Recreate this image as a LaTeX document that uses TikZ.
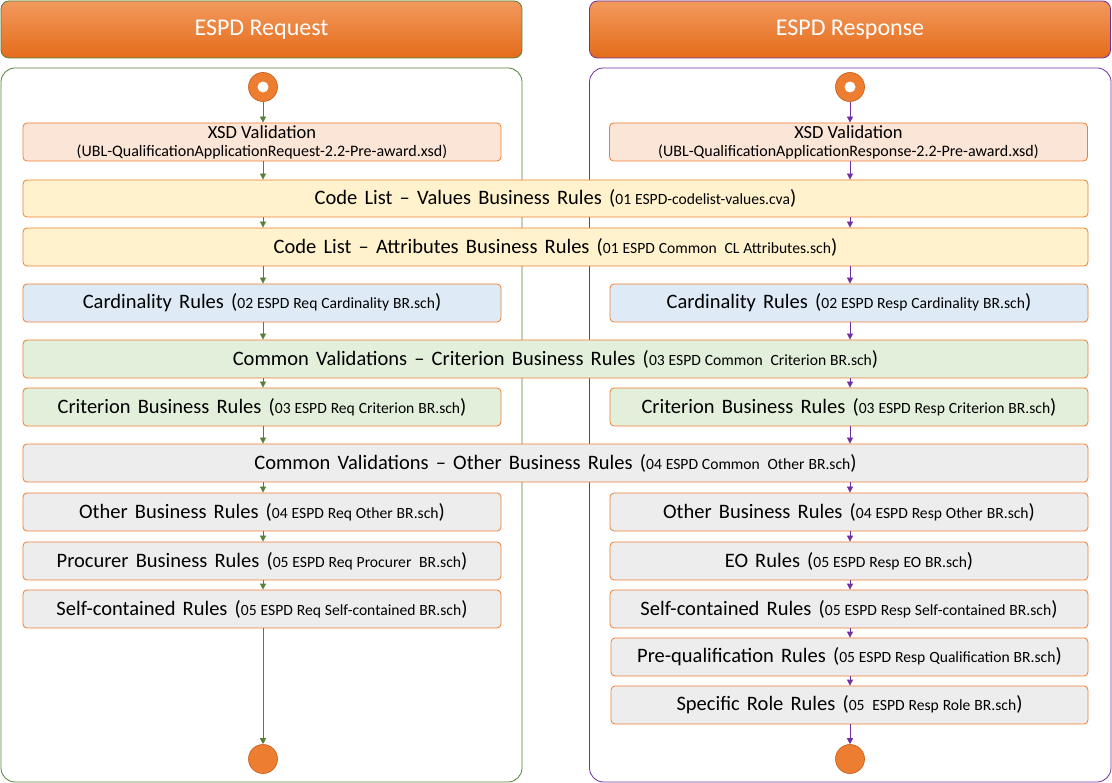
\documentclass[tikz,border=0pt]{standalone}
\usepackage{fontspec}
\setmainfont{Carlito}
\usetikzlibrary{arrows.meta}
\definecolor{org}{HTML}{ED7D31}
\definecolor{orgD}{HTML}{C55A11}
\definecolor{grn}{HTML}{548235}
\definecolor{pur}{HTML}{7030A0}
\definecolor{peach}{HTML}{FBE5D6}
\definecolor{yel}{HTML}{FFF2CC}
\definecolor{blu}{HTML}{DEEBF7}
\definecolor{lgrn}{HTML}{E2EFDA}
\definecolor{gry}{HTML}{EDEDED}
\definecolor{hdrT}{HTML}{F3995E}
\definecolor{hdrB}{HTML}{E46C1A}
\newcommand{\fn}[1]{{\fontsize{15.6}{17}\selectfont\spaceskip=0.25em #1}}
\newcommand{\mainsz}{\fontsize{20.5}{23}\selectfont\spaceskip=0.35em plus 0.1em}
\begin{document}
\begin{tikzpicture}[x=1pt,y=-1pt,
 box/.style={draw=org, line width=0.8pt, rounded corners=4pt, minimum height=38pt, inner sep=0pt, font=\mainsz, text=black},
 narrow/.style={box, minimum width=478pt},
 wide/.style={box, minimum width=1065pt},
 hdr/.style={rounded corners=8pt, minimum width=521pt, minimum height=57pt, top color=hdrT, bottom color=hdrB, text=white, font=\fontsize{24}{28}\selectfont, line width=0.8pt},
 cont/.style={rounded corners=14pt, line width=0.8pt},
 arrL/.style={draw=grn, line width=0.8pt, -{Triangle[width=6pt,length=6pt]}},
 arrR/.style={draw=pur, line width=0.8pt, -{Triangle[width=6pt,length=6pt]}},
 startc/.style={circle, fill=org, draw=orgD, line width=0.6pt, minimum size=29pt, inner sep=0pt},
 inner/.style={circle, fill=white, minimum size=11pt, inner sep=0pt},
 endc/.style={circle, fill=org, draw=orgD, line width=0.6pt, minimum size=29pt, inner sep=0pt},
]
\useasboundingbox (0,0) rectangle (1112,783);
% containers
\draw[cont, grn] (1,68) rectangle (522,782);
\draw[cont, pur] (589.5,68) rectangle (1111,782);
% headers
\node[hdr, draw=grn] (hL) at (261.5,29.5) {ESPD Request};
\node[hdr, draw=pur] (hR) at (850,29.5) {ESPD Response};
% axes
\coordinate (lx) at (263,0);
\coordinate (rx) at (850,0);
% start/end
\node[startc] (sL) at (263,87) {};
\node[inner] (sLi) at (sL) {};
\node[startc] (sR) at (850,87) {};
\node[inner] (sRi) at (sR) {};
\node[endc] (eL) at (263,759) {};
\node[endc] (eR) at (850,759) {};
% boxes
\node[narrow, fill=peach, align=center, font=\fontsize{18.5}{19}\selectfont] (xsdL) at (262,142) {XSD Validation\\[-1pt]{\fontsize{16}{17}\selectfont(UBL-QualificationApplicationRequest-2.2-Pre-award.xsd)}};
\node[narrow, fill=peach, align=center, font=\fontsize{18.5}{19}\selectfont] (xsdR) at (848.5,142) {XSD Validation\\[-1pt]{\fontsize{16}{17}\selectfont(UBL-QualificationApplicationResponse-2.2-Pre-award.xsd)}};
\node[wide, fill=yel, minimum height=37pt] (clv) at (555.5,198.5) {Code List -- Values Business Rules (\fn{01 ESPD-codelist-values.cva})};
\node[wide, fill=yel] (cla) at (555.5,247) {Code List -- Attributes Business Rules (\fn{01 ESPD Common\ \ CL Attributes.sch})};
\node[narrow, fill=blu] (cardL) at (262,303) {Cardinality Rules (\fn{02 ESPD Req Cardinality BR.sch})};
\node[narrow, fill=blu] (cardR) at (849,303) {Cardinality Rules (\fn{02 ESPD Resp Cardinality BR.sch})};
\node[wide, fill=lgrn] (ccrit) at (555.5,359) {Common Validations -- Criterion Business Rules (\fn{03 ESPD Common\ \ Criterion BR.sch})};
\node[narrow, fill=lgrn] (critL) at (262,407) {Criterion Business Rules (\fn{03 ESPD Req Criterion BR.sch})};
\node[narrow, fill=lgrn] (critR) at (849,407) {Criterion Business Rules (\fn{03 ESPD Resp Criterion BR.sch})};
\node[wide, fill=gry] (cother) at (555.5,463) {Common Validations -- Other Business Rules (\fn{04 ESPD Common\ \ Other BR.sch})};
\node[narrow, fill=gry] (otherL) at (262,512) {Other Business Rules (\fn{04 ESPD Req Other BR.sch})};
\node[narrow, fill=gry] (otherR) at (849,512) {Other Business Rules (\fn{04 ESPD Resp Other BR.sch})};
\node[narrow, fill=gry] (procL) at (262,561) {Procurer Business Rules (\fn{05 ESPD Req Procurer\ \ BR.sch})};
\node[narrow, fill=gry] (eoR) at (849,561) {EO Rules (\fn{05 ESPD Resp EO BR.sch})};
\node[narrow, fill=gry] (selfL) at (262,609) {Self-contained Rules (\fn{05 ESPD Req Self-contained BR.sch})};
\node[narrow, fill=gry] (selfR) at (849,609) {Self-contained Rules (\fn{05 ESPD Resp Self-contained BR.sch})};
\node[narrow, fill=gry, minimum width=477pt] (preR) at (849.5,657) {Pre-qualification Rules (\fn{05 ESPD Resp Qualification BR.sch})};
\node[narrow, fill=gry, minimum width=477pt] (roleR) at (849.5,705) {Specific Role Rules (\fn{05\ \ ESPD Resp Role BR.sch})};
% left connectors
\draw[arrL] (sL.south) -- (xsdL.north -| lx);
\draw[arrL] (xsdL.south -| lx) -- (clv.north -| lx);
\draw[arrL] (clv.south -| lx) -- (cla.north -| lx);
\draw[arrL] (cla.south -| lx) -- (cardL.north -| lx);
\draw[arrL] (cardL.south -| lx) -- (ccrit.north -| lx);
\draw[arrL] (ccrit.south -| lx) -- (critL.north -| lx);
\draw[arrL] (critL.south -| lx) -- (cother.north -| lx);
\draw[arrL] (cother.south -| lx) -- (otherL.north -| lx);
\draw[arrL] (otherL.south -| lx) -- (procL.north -| lx);
\draw[arrL] (procL.south -| lx) -- (selfL.north -| lx);
\draw[arrL] (selfL.south -| lx) -- (eL.north);
% right connectors
\draw[arrR] (sR.south) -- (xsdR.north -| rx);
\draw[arrR] (xsdR.south -| rx) -- (clv.north -| rx);
\draw[arrR] (clv.south -| rx) -- (cla.north -| rx);
\draw[arrR] (cla.south -| rx) -- (cardR.north -| rx);
\draw[arrR] (cardR.south -| rx) -- (ccrit.north -| rx);
\draw[arrR] (ccrit.south -| rx) -- (critR.north -| rx);
\draw[arrR] (critR.south -| rx) -- (cother.north -| rx);
\draw[arrR] (cother.south -| rx) -- (otherR.north -| rx);
\draw[arrR] (otherR.south -| rx) -- (eoR.north -| rx);
\draw[arrR] (eoR.south -| rx) -- (selfR.north -| rx);
\draw[arrR] (selfR.south -| rx) -- (preR.north -| rx);
\draw[arrR] (preR.south -| rx) -- (roleR.north -| rx);
\draw[arrR] (roleR.south -| rx) -- (eR.north);
\end{tikzpicture}
\end{document}
